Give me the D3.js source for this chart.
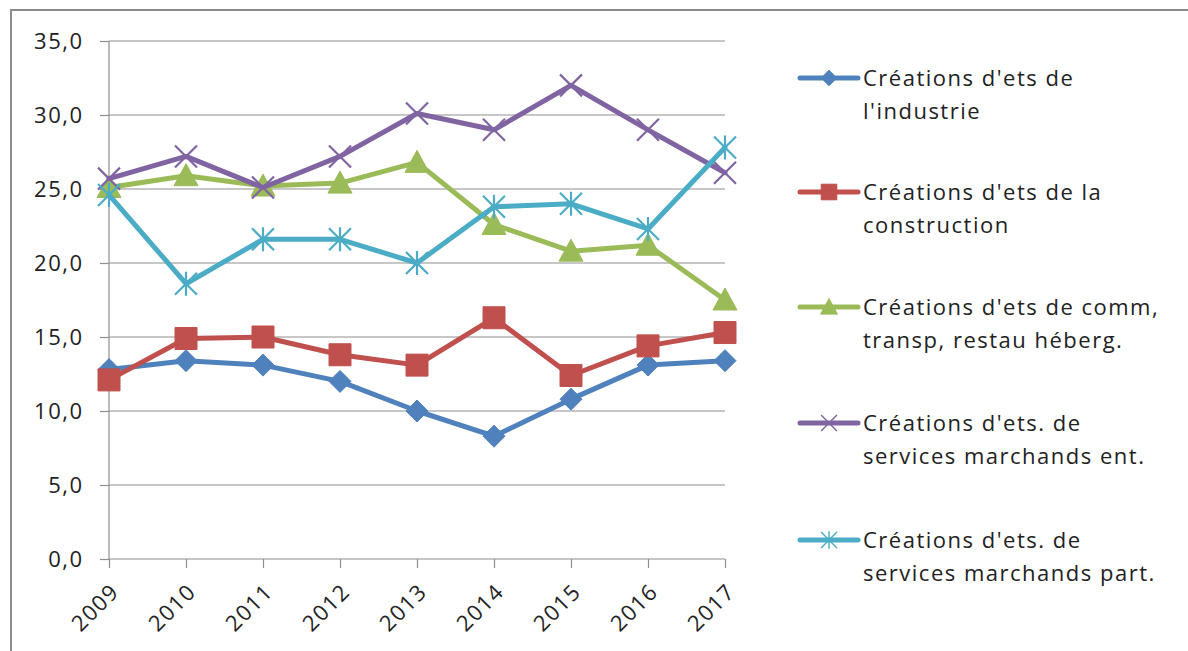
<!DOCTYPE html>
<html><head><meta charset="utf-8">
<script src="https://cdn.jsdelivr.net/npm/d3@7"></script>
<style>body{margin:0;background:#fff;}svg{display:block;}</style>
</head><body>
<svg id="c" width="1188" height="651"></svg>
<script>
const years = ["2009","2010","2011","2012","2013","2014","2015","2016","2017"];
const industrie = [12.8,13.4,13.1,12.0,10.0,8.3,10.8,13.1,13.4];
const construction = [12.1,14.9,15.0,13.8,13.1,16.3,12.4,14.4,15.3];
const commerce = [25.1,25.9,25.2,25.4,26.8,22.6,20.8,21.2,17.5];
const servEnt = [25.7,27.2,25.1,27.2,30.1,29.0,32.0,29.0,26.1];
const servPart = [24.6,18.6,21.6,21.6,20.0,23.8,24.0,22.3,27.8];
const yTicks = [0,5,10,15,20,25,30,35];
const seriesNames = [
  ["Créations d'ets de","l'industrie"],
  ["Créations d'ets de la","construction"],
  ["Créations d'ets de comm,","transp, restau héberg."],
  ["Créations d'ets. de","services marchands ent."],
  ["Créations d'ets. de","services marchands part."]
];
const seriesValues = [industrie, construction, commerce, servEnt, servPart];
const colors = ["#4F81BD","#C0504D","#9BBB59","#8064A2","#4BACC6"];
const markers = ["diamond","square","triangle","x","star"];

const svg = d3.select("#c");
const font = "'Open Sans', sans-serif";
const ls = 1.5;
// frame
svg.append("path").attr("d","M11,651 V10 H1188").attr("fill","none").attr("stroke","#8c8c8c").attr("stroke-width",2);

const x = d3.scalePoint().domain(years).range([109,725]);
const y = d3.scaleLinear().domain([0,35]).range([559,41]);

// grid
svg.append("g").selectAll("line").data(yTicks.filter(d=>d>0)).join("line")
  .attr("x1",109).attr("x2",725).attr("y1",d=>y(d)).attr("y2",d=>y(d))
  .attr("stroke","#8f8f8f").attr("stroke-width",1.2);

const yAxis = svg.append("g").attr("transform","translate(109,0)")
  .call(d3.axisLeft(y).tickValues(yTicks).tickSize(9).tickPadding(18).tickFormat(d=>d3.format(".1f")(d).replace(".",",")));
yAxis.select(".domain").attr("stroke","#8f8f8f").attr("stroke-width",1.2).attr("d","M0,41V559");
yAxis.selectAll(".tick line").attr("stroke","#8f8f8f").attr("stroke-width",1.2);
yAxis.selectAll("text").attr("font-family",font).attr("font-size",22).attr("fill","#222")
  .attr("letter-spacing",ls).attr("dx",ls);

const xAxis = svg.append("g").attr("transform","translate(0,559)")
  .call(d3.axisBottom(x).tickSize(9).tickPadding(4));
xAxis.select(".domain").attr("stroke","#8f8f8f").attr("stroke-width",1.2).attr("d","M109,0H725");
xAxis.selectAll(".tick line").attr("stroke","#8f8f8f").attr("stroke-width",1.2);
xAxis.selectAll("text").attr("font-family",font).attr("font-size",22).attr("fill","#222")
  .attr("letter-spacing",ls)
  .attr("text-anchor","end").attr("dy",0).attr("y",0).attr("x",0)
  .attr("transform","translate(11,34) rotate(-45)");

function markerPath(type, cx, cy){
  const s = 11;
  switch(type){
    case "diamond": return `M${cx},${cy-s}L${cx+s},${cy}L${cx},${cy+s}L${cx-s},${cy}Z`;
    case "square": return `M${cx-s},${cy-s}H${cx+s}V${cy+s}H${cx-s}Z`;
    case "triangle": return `M${cx},${cy-s-1}L${cx+s+1},${cy+s-1}L${cx-s-1},${cy+s-1}Z`;
    case "x": return `M${cx-s},${cy-s}L${cx+s},${cy+s}M${cx+s},${cy-s}L${cx-s},${cy+s}`;
    case "star": return `M${cx-s},${cy-s}L${cx+s},${cy+s}M${cx+s},${cy-s}L${cx-s},${cy+s}M${cx},${cy-s-1}V${cy+s+1}`;
  }
}

const line = d3.line().x((d,i)=>x(years[i])).y(d=>y(d));
seriesValues.forEach((vals,k)=>{
  const g = svg.append("g");
  g.append("path").attr("d",line(vals)).attr("fill","none").attr("stroke",colors[k])
    .attr("stroke-width",5).attr("stroke-linejoin","round").attr("stroke-linecap","round");
  const filled = ["diamond","square","triangle"].includes(markers[k]);
  g.selectAll("path.m").data(vals).join("path").attr("class","m")
    .attr("d",(d,i)=>markerPath(markers[k],x(years[i]),y(d)))
    .attr("fill",filled?colors[k]:"none")
    .attr("stroke",colors[k]).attr("stroke-width",filled?1:2.2);
});

// legend
const legY = [78,192,307,423,540];
seriesNames.forEach((lines,k)=>{
  const g = svg.append("g").attr("transform",`translate(0,${legY[k]})`);
  g.append("line").attr("x1",800).attr("x2",858).attr("y1",0).attr("y2",0)
    .attr("stroke",colors[k]).attr("stroke-width",5).attr("stroke-linecap","round");
  const filled = ["diamond","square","triangle"].includes(markers[k]);
  const sc = 0.72;
  g.append("path").attr("transform",`translate(829,0) scale(${sc})`)
    .attr("d",markerPath(markers[k],0,0))
    .attr("fill",filled?colors[k]:"none").attr("stroke",colors[k]).attr("stroke-width",filled?1:2);
  lines.forEach((t,j)=>{
    g.append("text").attr("x",863).attr("y",j*33+8).text(t)
      .attr("font-family",font).attr("font-size",22).attr("letter-spacing",ls).attr("fill","#222");
  });
});
</script>
</body></html>
